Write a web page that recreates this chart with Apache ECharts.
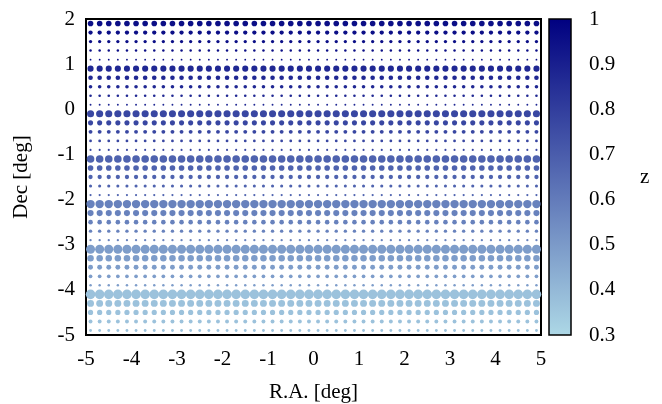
<!DOCTYPE html>
<html>
<head>
<meta charset="utf-8">
<script src="https://cdn.jsdelivr.net/npm/echarts@6/dist/echarts.min.js"></script>
<style>html,body{margin:0;padding:0;background:#fff;}#c{width:662px;height:404px;}</style>
</head>
<body>
<div id="c"></div>
<script>
// R.A. grid positions [deg]
var raValues = [-4.9,-4.7,-4.5,-4.3,-4.1,-3.9,-3.7,-3.5,-3.3,-3.1,-2.9,-2.7,-2.5,-2.3,-2.1,-1.9,-1.7,-1.5,-1.3,-1.1,-0.9,-0.7,-0.5,-0.3,-0.1,0.1,0.3,0.5,0.7,0.9,1.1,1.3,1.5,1.7,1.9,2.1,2.3,2.5,2.7,2.9,3.1,3.3,3.5,3.7,3.9,4.1,4.3,4.5,4.7,4.9];
// Dec rows [deg]
var decValues = [1.9,1.7,1.5,1.3,1.1, 0.9,0.7,0.5,0.3,0.1, -0.1,-0.3,-0.5,-0.7,-0.9, -1.1,-1.3,-1.5,-1.7,-1.9, -2.1,-2.3,-2.5,-2.7,-2.9, -3.1,-3.3,-3.5,-3.7,-3.9, -4.1,-4.3,-4.5,-4.7,-4.9];
// z value for each Dec row
var zValues = [0.95,0.95,0.95,0.95,0.95, 0.87,0.87,0.87,0.87,0.87, 0.77,0.77,0.77,0.77,0.77, 0.68,0.68,0.68,0.68,0.68, 0.58,0.58,0.58,0.58,0.58, 0.49,0.49,0.49,0.49,0.49, 0.37,0.37,0.37,0.37,0.37];
// relative point magnitude for each Dec row
var magValues = [0.56,0.43,0.33,0.25,0.18, 0.61,0.46,0.36,0.26,0.19, 0.71,0.51,0.39,0.28,0.21, 0.76,0.56,0.43,0.31,0.22, 0.84,0.61,0.46,0.34,0.23, 0.90,0.65,0.49,0.37,0.25, 0.96,0.69,0.52,0.39,0.28];
// tick labels
var raTicks = [-5,-4,-3,-2,-1,0,1,2,3,4,5];
var decTicks = [-5,-4,-3,-2,-1,0,1,2];
var zTicks = [0.3,0.4,0.5,0.6,0.7,0.8,0.9,1];

var points = [];
for (var j = 0; j < decValues.length; j++) {
  for (var i = 0; i < raValues.length; i++) {
    points.push([raValues[i], decValues[j], zValues[j], magValues[j]]);
  }
}

var font = 'Liberation Serif';
var fs = 21;
var chart = echarts.init(document.getElementById('c'), null, {renderer: 'canvas'});
chart.setOption({
  backgroundColor: '#fff',
  animation: false,
  textStyle: {fontFamily: font},
  grid: [
    {left: 86, right: 121, top: 19, bottom: 69, show: true, borderColor: '#000', borderWidth: 2, backgroundColor: '#fff', z: 0,
     containLabel: false, outerBoundsMode: 'none'},
    {left: 549, width: 22, top: 19, bottom: 69, show: true, borderColor: '#000', borderWidth: 1.5,
     containLabel: false, outerBoundsMode: 'none',
     backgroundColor: {type: 'linear', x: 0, y: 0, x2: 0, y2: 1, colorStops: [{offset: 0, color: '#000080'}, {offset: 1, color: '#add8e6'}]}}
  ],
  xAxis: [
    {gridIndex: 0, type: 'value', min: raTicks[0], max: raTicks[raTicks.length - 1], interval: 1,
     name: 'R.A. [deg]', nameLocation: 'middle', nameGap: 47,
     nameTextStyle: {fontFamily: font, fontSize: fs, color: '#000'},
     axisLine: {show: false}, axisTick: {show: false}, splitLine: {show: false},
     axisLabel: {fontFamily: font, fontSize: fs, color: '#000', margin: 14}},
    {gridIndex: 1, type: 'value', show: false, min: 0, max: 1}
  ],
  yAxis: [
    {gridIndex: 0, type: 'value', min: decTicks[0], max: decTicks[decTicks.length - 1], interval: 1,
     name: 'Dec [deg]', nameLocation: 'middle', nameGap: 54,
     nameTextStyle: {fontFamily: font, fontSize: fs, color: '#000'},
     axisLine: {show: false}, axisTick: {show: false}, splitLine: {show: false},
     axisLabel: {fontFamily: font, fontSize: fs, color: '#000', margin: 11}},
    {gridIndex: 1, type: 'value', position: 'right', min: 3, max: 10, interval: 1,
     name: 'z', nameLocation: 'middle', nameGap: 69, nameRotate: 0,
     nameTextStyle: {fontFamily: font, fontSize: fs, color: '#000'},
     axisLine: {show: false}, axisTick: {show: false}, splitLine: {show: false},
     axisLabel: {fontFamily: font, fontSize: fs, color: '#000', margin: 18,
       formatter: function (v) { var t = zTicks[Math.round(v) - 3]; return t === undefined ? '' : String(t); }}}
  ],
  visualMap: {
    show: false, type: 'continuous', dimension: 2, seriesIndex: 0,
    min: zTicks[0], max: zTicks[zTicks.length - 1],
    inRange: {color: ['#add8e6', '#000080']}
  },
  series: [{
    type: 'scatter', xAxisIndex: 0, yAxisIndex: 0,
    data: points,
    symbol: 'circle',
    symbolSize: function (v) { return v[3] * 10; },
    itemStyle: {opacity: 1},
    large: false
  }]
});
</script>
</body>
</html>
